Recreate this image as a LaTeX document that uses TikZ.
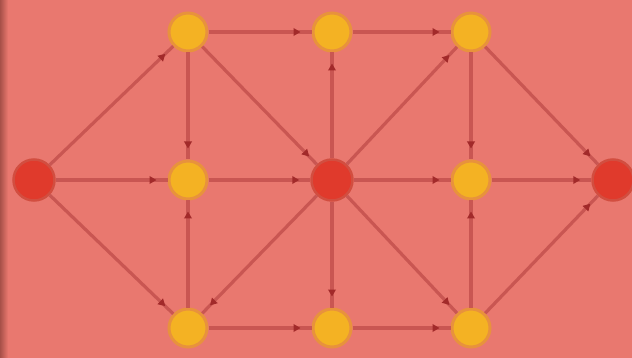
\documentclass[tikz,border=0pt]{standalone}
\usepackage{tikz}
\usetikzlibrary{arrows.meta,decorations.markings}
\definecolor{nwBack}  {HTML}{E9786F}
\definecolor{nwShade} {HTML}{A85048}
\definecolor{nwEdge}  {HTML}{C95652}
\definecolor{nwTip}   {HTML}{A22A2A}
\definecolor{nwGold}  {HTML}{F4B223}
\definecolor{nwRing}  {HTML}{E8923C}
\definecolor{nwRed}   {HTML}{E03A2C}
\definecolor{nwRim}   {HTML}{D24E40}

\begin{document}
\begin{tikzpicture}[x=1pt,y=-1pt,
    inner/.style={circle,minimum size=38pt,inner sep=0,fill=nwGold,draw=nwRing,line width=3pt},
    term/.style={circle,minimum size=41pt,inner sep=0,fill=nwRed,draw=nwRim,line width=2.5pt},
    flow/.style={draw=nwEdge,line width=3.2pt,postaction={decorate},
      decoration={markings,mark=at position -11pt with {\arrow[nwTip]{Triangle[length=7pt,width=7.5pt]}}}}]
    \useasboundingbox (0,0) rectangle (632,358);
    \fill[nwBack] (0,0) rectangle (632,358);
    \shade[left color=nwShade,right color=nwBack] (0,0) rectangle (8,358);
    % source, sink and the middle cut
    \node[term] (s) at (34,180) {};
    \node[term] (m) at (332,180) {};
    \node[term] (t) at (613,180) {};
    % left column
    \node[inner] (a1) at (188,32) {};
    \node[inner] (a2) at (188,180) {};
    \node[inner] (a3) at (188,328) {};
    % middle column
    \node[inner] (b1) at (332,32) {};
    \node[inner] (b3) at (332,328) {};
    % right column
    \node[inner] (c1) at (471,32) {};
    \node[inner] (c2) at (471,180) {};
    \node[inner] (c3) at (471,328) {};
    \foreach \u/\v in {s/a1,s/a2,s/a3,a1/b1,a1/a2,a1/m,a3/a2,a2/m,m/a3,a3/b3,
        m/b1,m/b3,b1/c1,m/c1,m/c2,m/c3,b3/c3,c1/c2,c3/c2,c1/t,c2/t,c3/t}
      \draw[flow] (\u) -- (\v);
\end{tikzpicture}
\end{document}
